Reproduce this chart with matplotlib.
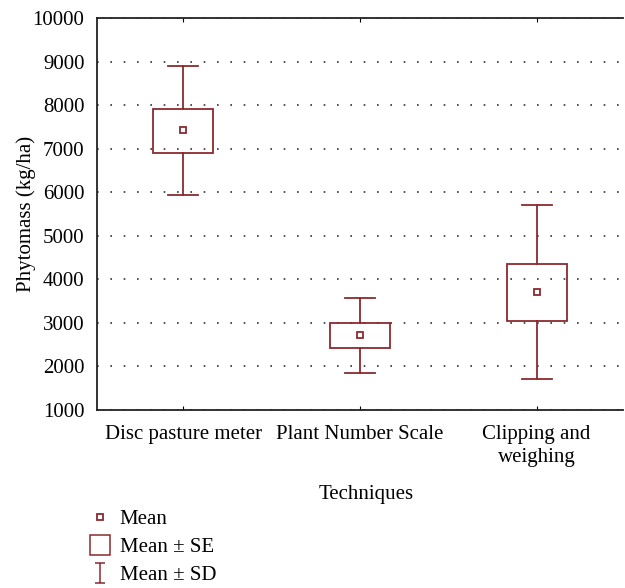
import matplotlib
matplotlib.use('Agg')
import matplotlib.pyplot as plt
from matplotlib.lines import Line2D
from matplotlib.patches import Rectangle
from matplotlib.path import Path

techniques = ['Disc pasture meter', 'Plant Number Scale', 'Clipping and\nweighing']
mean = [7430, 2727, 3720]
se_low = [6910, 2430, 3036]
se_high = [7900, 3000, 4360]
sd_low = [5930, 1848, 1720]
sd_high = [8890, 3575, 5710]

red = '#8b2a2e'
fs = 15
plt.rcParams['font.family'] = ['Liberation Serif', 'DejaVu Serif']

fig = plt.figure(figsize=(6.25, 5.88), dpi=100)
ax = fig.add_axes([97 / 625, 1 - 410 / 588, (623 - 97) / 625, (410 - 18) / 588])

box_w = 0.34
cap_w = 0.17
for i in range(len(techniques)):
    # SD whiskers
    ax.plot([i, i], [sd_low[i], se_low[i]], color=red, lw=1.3)
    ax.plot([i, i], [se_high[i], sd_high[i]], color=red, lw=1.3)
    ax.plot([i - cap_w / 2, i + cap_w / 2], [sd_low[i], sd_low[i]], color=red, lw=1.3)
    ax.plot([i - cap_w / 2, i + cap_w / 2], [sd_high[i], sd_high[i]], color=red, lw=1.3)
    # SE box
    ax.add_patch(Rectangle((i - box_w / 2, se_low[i]), box_w, se_high[i] - se_low[i],
                           fill=False, edgecolor=red, lw=1.3, zorder=3))
    ax.plot(i, mean[i], marker='s', ms=4.5, mfc='white', mec=red, mew=1.3, zorder=4)

ax.set_xlim(-0.49, 2.49)
ax.set_ylim(1000, 10000)
ax.set_yticks(range(1000, 10001, 1000))
ax.set_xticks(range(len(techniques)))
ax.set_xticklabels(techniques, fontsize=fs, linespacing=1.25)
ax.tick_params(axis='y', length=0, labelsize=fs, pad=9)
ax.tick_params(axis='x', direction='in', length=3, top=True, pad=11)
ax.grid(axis='y', color='#333333', linestyle=(0, (1, 7)), lw=1.2)
ax.spines['right'].set_visible(False)
for s in ['left', 'bottom', 'top']:
    ax.spines[s].set_linewidth(1.3)
    ax.spines[s].set_color('#222222')
ax.set_ylabel('Phytomass (kg/ha)', fontsize=fs)
ax.yaxis.set_label_coords((36 - 97) / 526, 0.5)
fig.text(366 / 625, 1 - 495 / 588, 'Techniques', ha='center', va='center', fontsize=fs)

# legend
ibeam = Path([(-0.5, -1), (0.5, -1), (0, -1), (0, 1), (-0.5, 1), (0.5, 1)],
             [Path.MOVETO, Path.LINETO, Path.MOVETO, Path.LINETO, Path.MOVETO, Path.LINETO])
handles = [
    Line2D([], [], ls='none', marker='s', ms=4.5, mfc='white', mec=red, mew=1.3),
    Line2D([], [], ls='none', marker='s', ms=14, mfc='none', mec=red, mew=1.1),
    Line2D([], [], ls='none', marker=ibeam, ms=15, mfc='none', mec=red, mew=1.1),
]
fig.legend(handles, ['Mean', 'Mean \u00b1 SE', 'Mean \u00b1 SD'], loc='upper left',
           bbox_to_anchor=(74 / 625, 1 - 499 / 588), frameon=False, fontsize=fs,
           handletextpad=0.2, labelspacing=0.4, borderpad=0, handlelength=1.5)

fig.savefig('out.png', dpi=100)
